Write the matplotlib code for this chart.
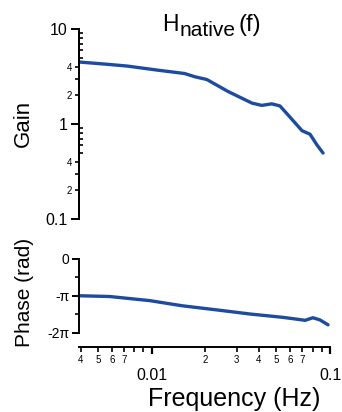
import numpy as np
import matplotlib.pyplot as plt
from matplotlib.ticker import FixedLocator, FixedFormatter, NullLocator

plt.rcParams['font.family'] = ['Liberation Sans', 'DejaVu Sans']

# values
gain_freq = [0.00394, 0.00566, 0.00733, 0.0108, 0.0153, 0.0175, 0.0204, 0.0267,
             0.0365, 0.0415, 0.0472, 0.0524, 0.0581, 0.0697, 0.0773, 0.0846, 0.0914]
gain = [4.49, 4.25, 4.07, 3.69, 3.40, 3.14, 2.94, 2.21,
        1.66, 1.57, 1.63, 1.55, 1.25, 0.85, 0.78, 0.60, 0.495]

phase_freq = [0.00394, 0.00581, 0.00974, 0.0149, 0.0232, 0.0356, 0.0545,
              0.0678, 0.0725, 0.0802, 0.0879, 0.0975]
phase_pi = [-1.0, -1.02, -1.13, -1.27, -1.38, -1.49, -1.58,
            -1.64, -1.66, -1.59, -1.65, -1.78]

gain_major = [0.1, 1, 10]
gain_major_labels = ['0.1', '1', '10']
gain_minor_out = [0.2, 0.3, 0.4, 2, 3, 4]
gain_minor_out_labels = ['2', '', '4', '2', '', '4']
gain_minor_in = [0.5, 0.6, 0.7, 0.8, 0.9, 5, 6, 7, 8, 9]

freq_major = [0.01, 0.1]
freq_major_labels = ['0.01', '0.1']
freq_minor = [0.004, 0.005, 0.006, 0.007, 0.008, 0.009,
              0.02, 0.03, 0.04, 0.05, 0.06, 0.07, 0.08, 0.09]
freq_minor_labels = ['4', '5', '6', '7', '', '',
                     '2', '3', '4', '5', '6', '7', '', '']

phase_ticks = [0, -np.pi, -2 * np.pi]
phase_labels = ['0', '-\u03c0', '-2\u03c0']
phase_minor = [-np.pi / 2, -3 * np.pi / 2]

line_color = '#1c4b9f'
xlim = (0.00392, 0.1)

fig = plt.figure(figsize=(3.42, 4.12), dpi=100)

# --- gain panel
ax1 = fig.add_axes([79 / 342, 1 - 219 / 412, 251 / 342, 190 / 412])
ax1.plot(gain_freq, gain, color=line_color, lw=2.4, solid_capstyle='round')
ax1.set_xscale('log')
ax1.set_yscale('log')
ax1.set_xlim(*xlim)
ax1.set_ylim(0.1, 10)
for s in ['top', 'right', 'bottom']:
    ax1.spines[s].set_visible(False)
ax1.spines['left'].set_linewidth(1.4)
ax1.xaxis.set_major_locator(NullLocator())
ax1.xaxis.set_minor_locator(NullLocator())
ax1.yaxis.set_major_locator(FixedLocator(gain_major))
ax1.yaxis.set_major_formatter(FixedFormatter(gain_major_labels))
ax1.yaxis.set_minor_locator(FixedLocator(gain_minor_out))
ax1.yaxis.set_minor_formatter(FixedFormatter(gain_minor_out_labels))
ax1.tick_params(axis='y', which='major', direction='out', length=6, width=1.4,
                labelsize=11.5, pad=2)
ax1.tick_params(axis='y', which='minor', direction='out', length=3, width=1.2,
                labelsize=7, pad=2)

# short inward ticks at 5..9 of each decade
sec = ax1.secondary_yaxis('left')
sec.yaxis.set_major_locator(FixedLocator([]))
sec.yaxis.set_minor_locator(FixedLocator(gain_minor_in))
sec.yaxis.set_minor_formatter(FixedFormatter([]))
sec.tick_params(axis='y', which='minor', direction='in', length=3, width=1.2)
sec.spines['left'].set_linewidth(1.4)

# --- phase panel
ax2 = fig.add_axes([79 / 342, 1 - 333 / 412, 251 / 342, 74.5 / 412])
ax2.plot(phase_freq, np.array(phase_pi) * np.pi, color=line_color, lw=2.4,
         solid_capstyle='round')
ax2.set_xscale('log')
ax2.set_xlim(*xlim)
ax2.set_ylim(-2 * np.pi, 0)
for s in ['top', 'right']:
    ax2.spines[s].set_visible(False)
ax2.spines['left'].set_linewidth(1.4)
ax2.spines['bottom'].set_linewidth(1.4)
ax2.spines['bottom'].set_position(('outward', 10))
ax2.yaxis.set_major_locator(FixedLocator(phase_ticks))
ax2.yaxis.set_major_formatter(FixedFormatter(phase_labels))
ax2.yaxis.set_minor_locator(FixedLocator(phase_minor))
ax2.tick_params(axis='y', which='major', direction='out', length=5, width=1.4,
                labelsize=10, pad=2)
ax2.tick_params(axis='y', which='minor', direction='out', length=3, width=1.2)
ax2.xaxis.set_major_locator(FixedLocator(freq_major))
ax2.xaxis.set_major_formatter(FixedFormatter(freq_major_labels))
ax2.xaxis.set_minor_locator(FixedLocator(freq_minor))
ax2.xaxis.set_minor_formatter(FixedFormatter(freq_minor_labels))
ax2.tick_params(axis='x', which='major', direction='out', length=5, width=1.6,
                labelsize=11.5, pad=10)
ax2.tick_params(axis='x', which='minor', direction='out', length=3.5, width=1.2,
                labelsize=7, pad=2)

# --- labels and title
fig.text(23 / 342, 1 - 123 / 412, 'Gain', rotation=90, ha='center', va='center',
         fontsize=16)
fig.text(25 / 342, 1 - 292 / 412, 'Phase (rad)', rotation=90, ha='center',
         va='center', fontsize=15)
fig.text(234 / 342, 1 - 387 / 412, 'Frequency (Hz)', ha='center', va='top',
         fontsize=18)

fig.text(162 / 342, 1 - 31 / 412, 'H', ha='left', va='baseline', fontsize=16.5)
fig.text(180 / 342, 1 - 36 / 412, 'native', ha='left', va='baseline',
         fontsize=15)
fig.text(238 / 342, 1 - 31 / 412, '(f)', ha='left', va='baseline', fontsize=17)

fig.savefig('out.png', dpi=100)
